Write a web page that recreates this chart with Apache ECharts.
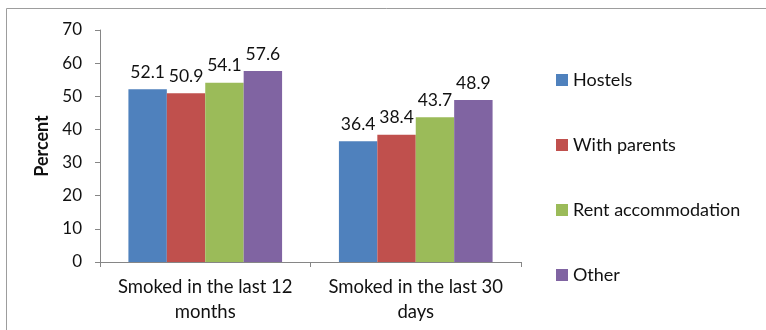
<!DOCTYPE html>
<html>
<head>
<meta charset="utf-8">
<script src="https://cdn.jsdelivr.net/npm/echarts@6/dist/echarts.min.js"></script>
<style>
  html, body { margin: 0; padding: 0; background: #fff; }
  #chart { width: 766px; height: 330px; }
</style>
</head>
<body>
<div id="chart"></div>
<script>
// Smoking prevalence by place of residence
const categories = ['Smoked in the last 12\nmonths', 'Smoked in the last 30\ndays'];
const seriesNames = ['Hostels', 'With parents', 'Rent accommodation', 'Other'];
const hostels = [52.1, 36.4];
const withParents = [50.9, 38.4];
const rentAccommodation = [54.1, 43.7];
const other = [57.6, 48.9];
const yTicks = { min: 0, max: 70, step: 10 };

const palette = ['#4F81BD', '#C0504D', '#9BBB59', '#8064A2'];
const values = [hostels, withParents, rentAccommodation, other];
const font = 'Lato, "Open Sans", sans-serif';

const chart = echarts.init(document.getElementById('chart'), null, { renderer: 'canvas' });

chart.setOption({
  animation: false,
  textStyle: { fontFamily: font },
  color: palette,
  graphic: [{
    type: 'rect',
    shape: { x: 6.5, y: 8.5, width: 900, height: 500 },
    style: { fill: 'none', stroke: '#9d9d9d', lineWidth: 1 },
    silent: true
  }],
  grid: { left: 100, right: 245, top: 30, bottom: 68, containLabel: false },
  legend: {
    orient: 'vertical',
    left: 551,
    top: 64,
    itemWidth: 12,
    itemHeight: 12,
    itemGap: 43,
    icon: 'rect',
    textStyle: { fontFamily: font, fontSize: 18, color: '#111', lineHeight: 22 },
    data: seriesNames
  },
  xAxis: {
    type: 'category',
    data: categories,
    axisLine: { lineStyle: { color: '#868686', width: 1 } },
    axisTick: { show: true, length: 5, lineStyle: { color: '#868686' } },
    axisLabel: { fontFamily: font, fontSize: 18.5, color: '#111', lineHeight: 25, margin: 13, interval: 0 }
  },
  yAxis: {
    type: 'value',
    min: yTicks.min,
    max: yTicks.max,
    interval: yTicks.step,
    name: 'Percent',
    nameLocation: 'middle',
    nameRotate: 90,
    nameGap: 47,
    nameTextStyle: { fontFamily: font, fontSize: 18, fontWeight: 'bold', color: '#111' },
    axisLine: { show: true, lineStyle: { color: '#868686', width: 1 } },
    axisTick: { show: true, length: 5, lineStyle: { color: '#868686' } },
    axisLabel: { fontFamily: font, fontSize: 17, color: '#111', margin: 18 },
    splitLine: { show: false }
  },
  series: seriesNames.map((name, i) => ({
    name,
    type: 'bar',
    data: values[i],
    barGap: '0%',
    barCategoryGap: '27%',
    itemStyle: { color: palette[i] },
    label: {
      show: true,
      position: 'top',
      distance: 8,
      fontFamily: font,
      fontSize: 17.5,
      color: '#111',
      formatter: p => p.value.toFixed(1)
    }
  }))
});
</script>
</body>
</html>
